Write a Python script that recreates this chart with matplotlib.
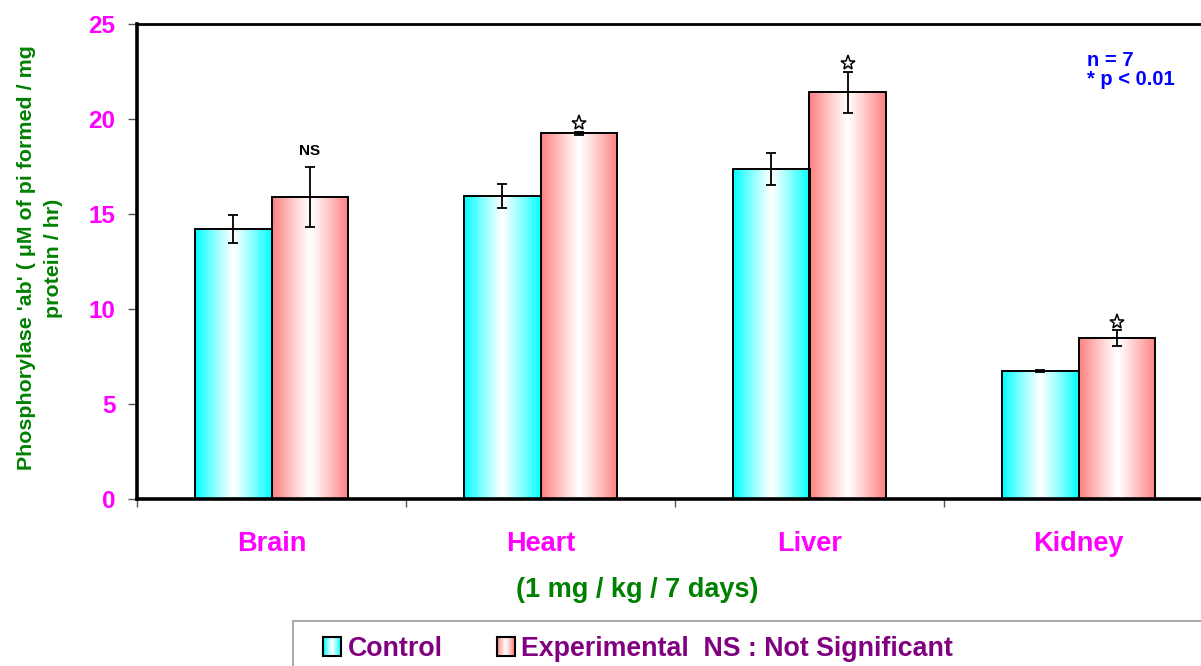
import numpy as np
import matplotlib
matplotlib.use("Agg")
import matplotlib.pyplot as plt
from matplotlib.patches import Rectangle
from matplotlib.legend_handler import HandlerBase
from matplotlib.colors import to_rgb

plt.rcParams['font.family'] = ['Liberation Sans', 'DejaVu Sans']
plt.rcParams['font.weight'] = 'bold'

# Data
organs = ["Brain", "Heart", "Liver", "Kidney"]
control = [14.2, 15.93, 17.37, 6.72]
control_err = [0.75, 0.63, 0.84, 0.06]
experimental = [15.9, 19.26, 21.42, 8.47]
experimental_err = [1.6, 0.08, 1.08, 0.42]
significance = ["NS", "*", "*", "*"]
y_ticks = [0, 5, 10, 15, 20, 25]

CYAN = "#00FFFF"
PINK = "#FF7F7F"
MAGENTA = "#FF00FF"
GREEN = "#008000"
PURPLE = "#800080"

W, H = 1201, 666


def edge_gradient(color, n=256):
    """Colour at both edges, fading to white in the middle."""
    c = np.array(to_rgb(color))
    t = np.linspace(0, 1, n)
    w = np.clip(np.abs(t - 0.5) * 2, 0, 1) ** 1.1
    return 1 - w[:, None] * (1 - c[None, :])


def fill_gradient(ax, patch, color):
    x0, y0 = patch.get_x(), patch.get_y()
    w, h = patch.get_width(), patch.get_height()
    img = ax.imshow(edge_gradient(color)[None, :, :],
                    extent=[x0, x0 + w, y0, y0 + h],
                    aspect='auto', interpolation='bilinear', zorder=1)
    img.set_clip_path(patch)


class GradientHandler(HandlerBase):
    def __init__(self, color, **kw):
        super().__init__(**kw)
        self.color = color

    def create_artists(self, legend, orig_handle, xdescent, ydescent,
                       width, height, fontsize, trans):
        side = width
        x0 = -xdescent
        y0 = -ydescent + (height - side) / 2
        rgb = edge_gradient(self.color, 24)
        n = len(rgb)
        arts = []
        for i, c in enumerate(rgb):
            arts.append(Rectangle((x0 + side * i / n, y0), side / n + 0.2, side,
                                  facecolor=c, edgecolor='none', transform=trans))
        arts.append(Rectangle((x0, y0), side, side, facecolor='none',
                              edgecolor='black', lw=1.5, transform=trans))
        return arts


fig = plt.figure(figsize=(W / 100, H / 100), dpi=100)
ax = fig.add_axes([137 / W, (H - 499) / H, 1076 / W, 475 / H])

x = np.arange(len(organs))
bw = 0.286
bars_c = ax.bar(x - bw / 2, control, bw, facecolor='none', edgecolor='black',
                linewidth=1.4, zorder=2)
bars_e = ax.bar(x + bw / 2, experimental, bw, facecolor='none', edgecolor='black',
                linewidth=1.4, zorder=2)
for p in bars_c:
    fill_gradient(ax, p, CYAN)
for p in bars_e:
    fill_gradient(ax, p, PINK)

ekw = dict(fmt='none', ecolor='black', elinewidth=1.3, capsize=3.6,
           capthick=1.3, zorder=3)
ax.errorbar(x - bw / 2, control, yerr=control_err, **ekw)
ax.errorbar(x + bw / 2, experimental, yerr=experimental_err, **ekw)

for xi, v, e, s in zip(x, experimental, experimental_err, significance):
    if s == "NS":
        ax.text(xi + bw / 2, v + e + 0.8, s, ha='center', va='center',
                fontsize=11, fontweight='bold', color='black')
    else:
        ax.plot(xi + bw / 2, v + e + 0.45, marker='*', ms=11,
                mfc='white', mec='black', mew=1.1, zorder=4)

ax.set_xlim(-0.5, len(organs) - 0.5)
ax.set_ylim(0, 25)
ax.set_yticks(y_ticks)
ax.set_yticklabels([str(t) for t in y_ticks], color=MAGENTA, fontsize=17.5,
                   fontweight='bold')
ax.set_xticks(np.arange(len(organs) + 1) - 0.5)
ax.set_xticklabels([])
ax.set_xticks(x, minor=True)
ax.set_xticklabels(organs, minor=True, color=MAGENTA, fontsize=19.5,
                   fontweight='bold')
ax.tick_params(axis='x', which='minor', length=0, pad=23)
ax.tick_params(axis='x', which='major', length=6, width=1, color='#555555')
ax.tick_params(axis='y', length=6.5, width=1, color='#555555', pad=9)

for side in ['left', 'bottom']:
    ax.spines[side].set_linewidth(2.6)
ax.spines['top'].set_linewidth(2.0)
ax.spines['right'].set_visible(False)

fig.text(637 / W, (H - 590) / H, "(1 mg / kg / 7 days)", color=GREEN,
         fontsize=19.5, fontweight='bold', ha='center', va='center')
fig.text(40 / W, (H - 258) / H,
         "Phosphorylase 'ab' ( \u03bcM of pi formed / mg\nprotein / hr)",
         color=GREEN, fontsize=15.4, fontweight='bold', rotation=90,
         ha='center', va='center', multialignment='center', linespacing=1.55)

fig.text(1087 / W, (H - 66) / H, "n = 7", color='#0000FF', fontsize=14.5,
         fontweight='bold', ha='left', va='baseline')
fig.text(1087 / W, (H - 85) / H, "* p < 0.01", color='#0000FF', fontsize=14.5,
         fontweight='bold', ha='left', va='baseline')

# Legend box, running off the lower-right edge of the figure
fig.patches.append(Rectangle((293 / W, -0.1), 1, (H - 621) / H + 0.1,
                             transform=fig.transFigure, facecolor='white',
                             edgecolor='#a0a0a0', lw=1.3, clip_on=False))
h_c = Rectangle((0, 0), 1, 1)
h_e = Rectangle((0, 0), 1, 1)
fig.legend([h_c, h_e], ["Control", "Experimental  NS : Not Significant"],
           handler_map={h_c: GradientHandler(CYAN), h_e: GradientHandler(PINK)},
           loc='center left', bbox_to_anchor=(323 / W, (H - 649) / H),
           ncol=2, frameon=False, labelcolor=PURPLE,
           handlelength=0.68, handleheight=0.68, handletextpad=0.25,
           columnspacing=2.0, borderpad=0, borderaxespad=0,
           prop={'weight': 'bold', 'size': 19.3})

fig.savefig("out.png", dpi=100)
